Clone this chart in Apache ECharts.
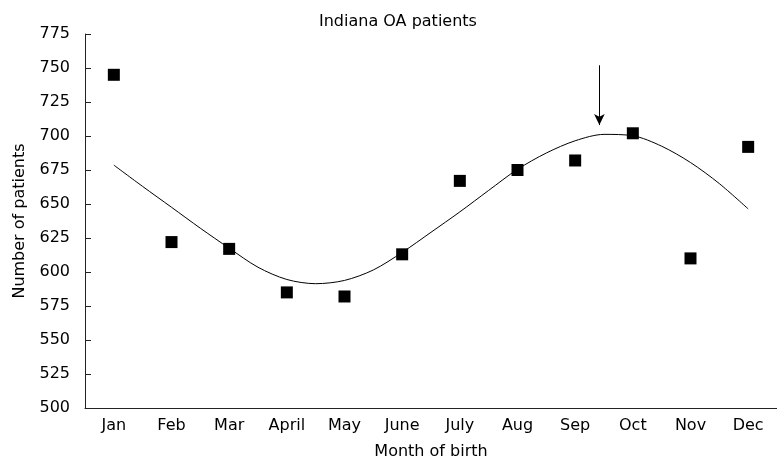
<!DOCTYPE html>
<html>
<head>
<meta charset="utf-8">
<script src="https://cdn.jsdelivr.net/npm/echarts@6/dist/echarts.min.js"></script>
<style>
  html, body { margin: 0; padding: 0; background: #fff; }
  #main { width: 777px; height: 465px; }
</style>
</head>
<body>
<div id="main"></div>
<script>
// 月份
var months = ['Jan', 'Feb', 'Mar', 'April', 'May', 'June', 'July', 'Aug', 'Sep', 'Oct', 'Nov', 'Dec'];
// 每月患者数（方块）
var patients = [745, 622, 617, 585, 582, 613, 667, 675, 682, 702, 610, 692];
// 拟合曲线：位置（月序号，半月一读）与读数
var curveAt = [0, 0.5, 1, 1.5, 2, 2.5, 3, 3.5, 4, 4.5, 5, 5.5, 6, 6.5, 7, 7.5, 8, 8.5, 9, 9.5, 10, 10.5, 11];
var curveVal = [678.6, 662.9, 647.6, 632.2, 617.5, 603.5, 594.5, 591.4, 593.8, 601.5, 614.4, 629.2,
                644.2, 660, 675.5, 687.5, 696.5, 701.2, 700.2, 692.5, 680.5, 665, 646.4];
// 箭头位置（月序号，起止值）
var arrowAt = 8.42, arrowFrom = 752, arrowTo = 708;
// Y 轴刻度
var yMin = 500, yMax = 775, yStep = 25;

var chart = echarts.init(document.getElementById('main'));

var font = 'DejaVu Sans, Verdana, sans-serif';
var axisColor = '#222';

var curveData = curveAt.map(function (m, i) { return [m, curveVal[i]]; });

chart.setOption({
  animation: false,
  backgroundColor: '#fff',
  title: {
    text: 'Indiana OA patients',
    left: 319,
    top: 14,
    padding: 0,
    textStyle: { fontFamily: font, fontSize: 16, fontWeight: 'normal', color: '#000' }
  },
  grid: { left: 85, top: 34, width: 696, height: 378.5, containLabel: false },
  xAxis: [{
    type: 'category',
    data: months,
    boundaryGap: true,
    name: 'Month of birth',
    nameLocation: 'middle',
    nameGap: 36,
    nameTextStyle: { fontFamily: font, fontSize: 16, color: '#000' },
    axisLine: { lineStyle: { color: axisColor, width: 1 } },
    axisTick: { inside: true, length: 7, lineStyle: { color: axisColor } },
    axisLabel: { fontFamily: font, fontSize: 16, color: '#000', margin: 10, interval: 0 },
    splitLine: { show: false }
  }, {
    type: 'value',
    min: -0.5,
    max: 11.5,
    show: false
  }],
  yAxis: {
    type: 'value',
    min: yMin,
    max: yMax,
    interval: yStep,
    name: 'Number of patients',
    nameLocation: 'middle',
    nameGap: 57,
    nameTextStyle: { fontFamily: font, fontSize: 16, color: '#000' },
    axisLine: { show: true, onZero: false, lineStyle: { color: axisColor, width: 1 } },
    axisTick: { show: true, inside: true, length: 6, lineStyle: { color: axisColor } },
    axisLabel: { fontFamily: font, fontSize: 16, color: '#000', margin: 15 },
    splitLine: { show: false }
  },
  series: [{
    name: 'fit',
    type: 'line',
    xAxisIndex: 1,
    data: curveData,
    smooth: 0.3,
    showSymbol: false,
    symbol: 'none',
    lineStyle: { color: '#000', width: 1 },
    z: 2
  }, {
    name: 'patients',
    type: 'scatter',
    data: patients,
    symbol: 'rect',
    symbolSize: 12,
    itemStyle: { color: '#000', opacity: 1 },
    z: 3
  }, {
    name: 'arrow',
    type: 'line',
    xAxisIndex: 1,
    data: [],
    markLine: {
      silent: true,
      symbol: ['none', 'arrow'],
      symbolSize: [8, 11],
      label: { show: false },
      lineStyle: { color: '#000', width: 1, type: 'solid' },
      data: [[{ coord: [arrowAt, arrowFrom] }, { coord: [arrowAt, arrowTo] }]]
    }
  }]
});
</script>
</body>
</html>
